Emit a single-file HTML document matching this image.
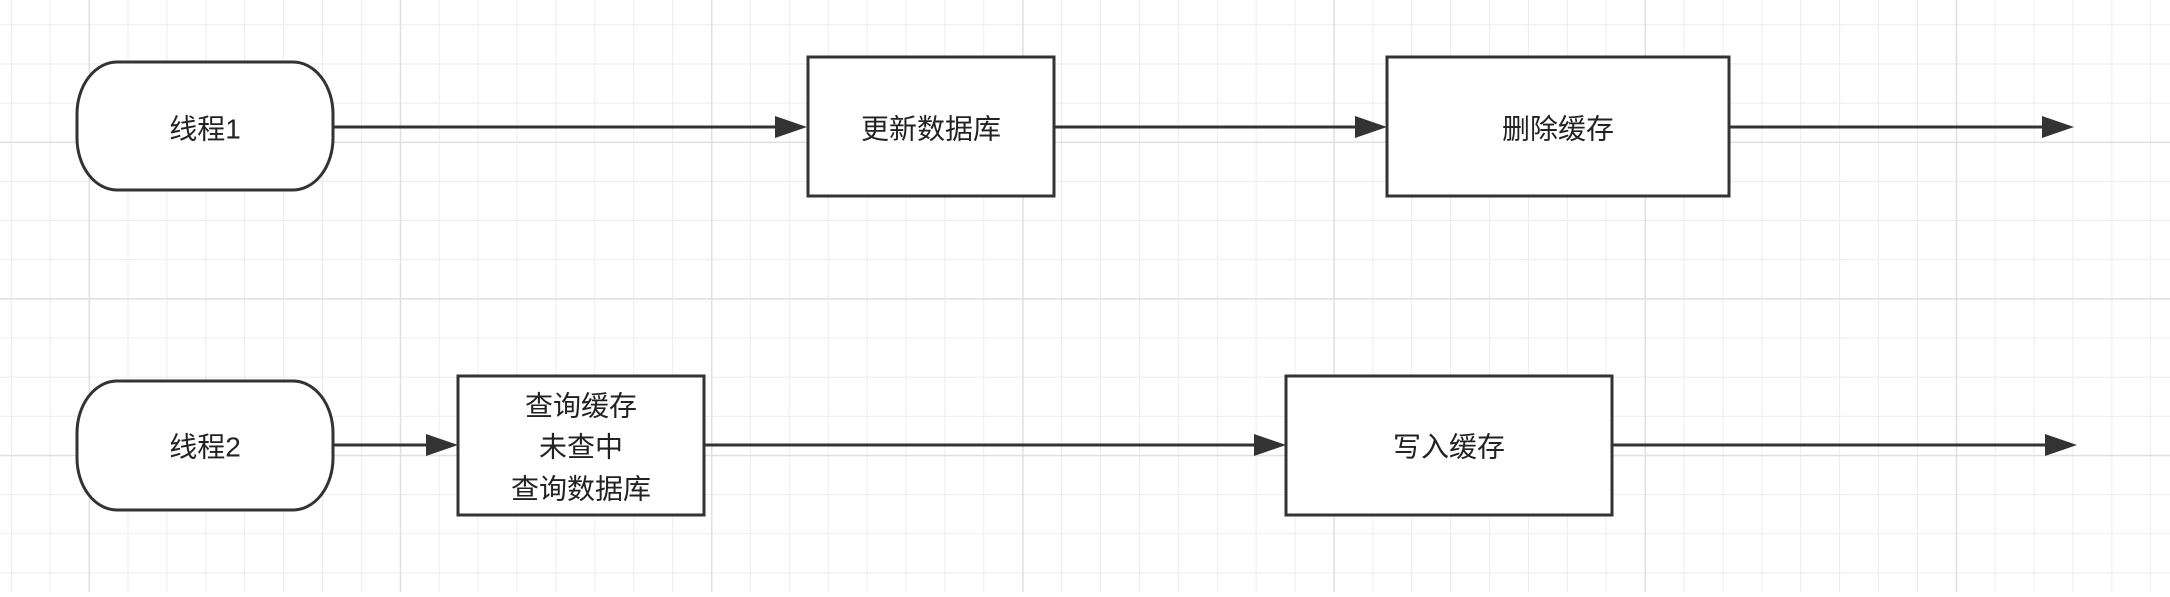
<!DOCTYPE html>
<html><head><meta charset="utf-8"><style>
html,body{margin:0;padding:0;background:#fff;}
body{width:2170px;height:592px;overflow:hidden;}
svg text{font-family:"Liberation Sans","Noto Sans CJK SC",sans-serif;font-size:28px;fill:#222;}
</style></head><body>
<svg width="2170" height="592" xmlns="http://www.w3.org/2000/svg">
<defs>
<pattern id="g" x="10.8" y="24.3" width="38.9" height="39.15" patternUnits="userSpaceOnUse">
<path d="M0 0V39.15M0 0H38.9" stroke="#ececec" stroke-width="2" fill="none"/>
</pattern>
<pattern id="G" x="88.6" y="141.6" width="311.2" height="156.6" patternUnits="userSpaceOnUse">
<path d="M0 0V156.6M0 0H311.2" stroke="#e0e0e0" stroke-width="3" fill="none"/>
</pattern>
<marker id="a" markerWidth="12" markerHeight="8" refX="11" refY="4" orient="auto" markerUnits="userSpaceOnUse" viewBox="0 0 12 8">
</marker>
</defs>
<rect width="2170" height="592" fill="url(#g)"/>
<rect width="2170" height="592" fill="url(#G)"/>
<g stroke="#333" stroke-width="3" fill="#fff">
<rect x="77" y="62" width="256" height="128" rx="40" ry="52"/>
<rect x="77" y="381" width="256" height="129" rx="40" ry="52"/>
<rect x="808" y="57" width="246" height="139"/>
<rect x="1387" y="57" width="342" height="139"/>
<rect x="458" y="376" width="246" height="139"/>
<rect x="1286" y="376" width="326" height="139"/>
<line x1="334" y1="127" x2="778" y2="127"/>
<line x1="1055" y1="127" x2="1358" y2="127"/>
<line x1="1730" y1="127" x2="2045" y2="127"/>
<line x1="334" y1="445" x2="429" y2="445"/>
<line x1="705" y1="445" x2="1257" y2="445"/>
<line x1="1613" y1="445" x2="2048" y2="445"/>
</g>
<g fill="#333">
<path d="M775 116L807 127L775 138Z"/>
<path d="M1355 116L1387 127L1355 138Z"/>
<path d="M2042 116L2074 127L2042 138Z"/>
<path d="M426 434L458 445L426 456Z"/>
<path d="M1254 434L1286 445L1254 456Z"/>
<path d="M2045 434L2077 445L2045 456Z"/>
</g>
<g text-anchor="middle" dominant-baseline="central">
<text x="205" y="129">线程1</text>
<text x="205" y="447">线程2</text>
<text x="931" y="129">更新数据库</text>
<text x="1558" y="129">删除缓存</text>
<text x="581" y="406">查询缓存</text>
<text x="581" y="447">未查中</text>
<text x="581" y="489">查询数据库</text>
<text x="1449" y="447">写入缓存</text>
</g>
</svg>
</body></html>
